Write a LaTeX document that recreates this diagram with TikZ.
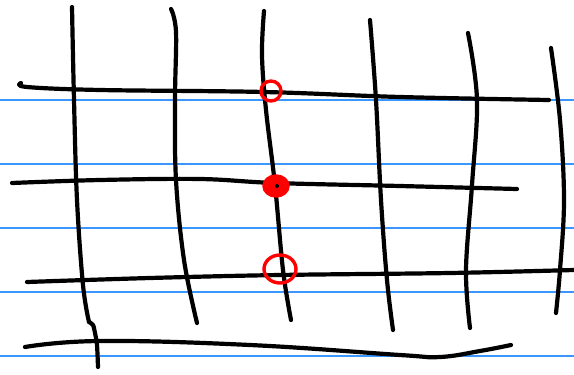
\documentclass[tikz,border=0pt]{standalone}
\begin{document}
\begin{tikzpicture}[x=1pt,y=-1pt,
  rule/.style={draw={rgb,255:red,60;green,150;blue,255},line width=1.1pt},
  ink/.style={draw=black,line width=4.2pt,line cap=round,line join=round},
  redring/.style={draw=red,line width=3.4pt}]
\useasboundingbox (0,0) rectangle (574,375);
% ruled lines
\foreach \yy in {100,164,228,292,356}
  \draw[rule] (0,\yy) -- (574,\yy);
% vertical strokes
\draw[ink] plot[smooth,tension=0.6] coordinates {(72,7) (74,100) (77,200) (83,285) (89,322)};
\draw[ink] plot[smooth,tension=0.5] coordinates {(89,322) (93,325) (95,333) (97,345) (98,367)};
\draw[ink] plot[smooth,tension=0.6] coordinates {(171,9) (176,32) (175,100) (176,180) (184,260) (197,323)};
\draw[ink] plot[smooth,tension=0.6] coordinates {(264,11) (262,55) (266,110) (275,185) (283,270) (291,320)};
\draw[ink] plot[smooth,tension=0.6] coordinates {(370,20) (376,100) (381,200) (387,280) (393,330)};
\draw[ink] plot[smooth,tension=0.6] coordinates {(468,33) (477,100) (472,185) (466,270) (470,328)};
\draw[ink] plot[smooth,tension=0.6] coordinates {(551,48) (560,120) (564,200) (560,270) (556,313)};
% horizontal strokes
\draw[ink] plot[smooth,tension=0.6] coordinates {(21,83) (27,87) (100,90) (264,92) (400,97) (549,100)};
\draw[ink] plot[smooth,tension=0.6] coordinates {(12,183) (100,180) (200,179) (275,183) (400,186) (517,189)};
\draw[ink] plot[smooth,tension=0.6] coordinates {(27,282) (150,278) (280,275) (450,273) (574,270)};
\draw[ink] plot[smooth,tension=0.7] coordinates {(25,347) (100,341) (250,345) (400,355) (440,357) (480,351) (511,345)};
% red marks
\draw[redring] (271,91) ellipse [x radius=10,y radius=10];
\fill[red] (276,186) ellipse [x radius=12,y radius=10];
\draw[redring] (276,186) ellipse [x radius=12,y radius=10];
\fill[black] (277,186) circle (2);
\draw[redring] (280,269) ellipse [x radius=16,y radius=14];
\end{tikzpicture}
\end{document}
